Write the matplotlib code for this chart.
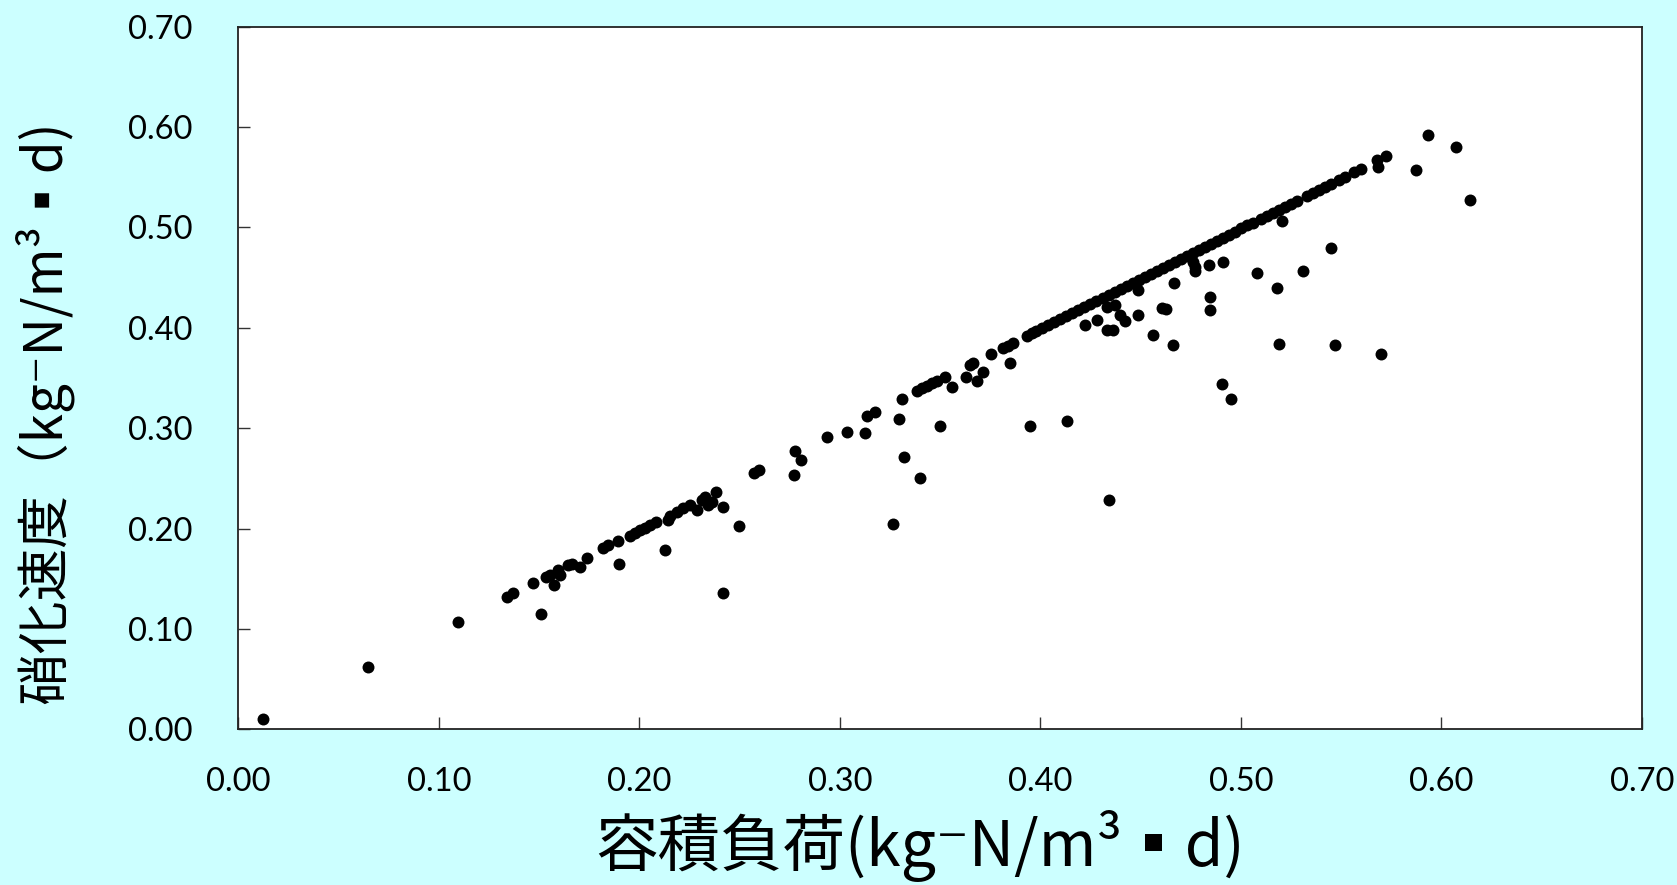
import matplotlib
matplotlib.use("Agg")
import matplotlib.pyplot as plt
from matplotlib.ticker import FormatStrFormatter

# ---- data ----
# isolated / scattered points (volumetric load, nitrification rate)
load_pts = [0.0124, 0.0645, 0.1093, 0.1341, 0.1371, 0.1471, 0.1509, 0.1532, 0.1554, 0.1575,
            0.1595, 0.1604, 0.1645, 0.1662, 0.1704, 0.1740, 0.1820, 0.1845, 0.1895, 0.1898,
            0.1953, 0.1978, 0.2003, 0.2028, 0.2053, 0.2083, 0.2128, 0.2144, 0.2153, 0.2186,
            0.2219, 0.2252, 0.2286, 0.2311, 0.2327, 0.2344, 0.2361, 0.2381, 0.2419, 0.2416,
            0.2498, 0.2572, 0.2598, 0.2773, 0.2776, 0.2806, 0.2934, 0.3037, 0.3125, 0.3134,
            0.3175, 0.3265, 0.3295, 0.3308, 0.3320, 0.3398, 0.3383, 0.3408, 0.3433, 0.3458,
            0.3483, 0.3524, 0.3499, 0.3561, 0.3629, 0.3649, 0.3666, 0.3686, 0.3716, 0.3752,
            0.3849, 0.3815, 0.3840, 0.3865, 0.3932, 0.3957, 0.3948, 0.4135, 0.4343,
            0.4223, 0.4281, 0.4334, 0.4364, 0.4331, 0.4372, 0.4397, 0.4422, 0.4489, 0.4489,
            0.4564, 0.4606, 0.4627, 0.4660, 0.4667, 0.4763, 0.4772, 0.4770, 0.4843, 0.4846,
            0.4846, 0.4913, 0.4906, 0.4951, 0.5080, 0.5180, 0.5190, 0.5204, 0.5309, 0.5449,
            0.5470, 0.5697, 0.5565, 0.5598, 0.5678, 0.5686, 0.5724, 0.5876, 0.5935, 0.6074,
            0.6143]
rate_pts = [0.0104, 0.0625, 0.1073, 0.1322, 0.1356, 0.1455, 0.1146, 0.1521, 0.1538, 0.1438,
            0.1588, 0.1538, 0.1638, 0.1648, 0.1621, 0.1704, 0.1804, 0.1837, 0.1877, 0.1648,
            0.1926, 0.1959, 0.1986, 0.2009, 0.2036, 0.2069, 0.1787, 0.2086, 0.2126, 0.2169,
            0.2202, 0.2240, 0.2186, 0.2285, 0.2318, 0.2235, 0.2268, 0.2368, 0.2218, 0.1362,
            0.2026, 0.2557, 0.2584, 0.2534, 0.2773, 0.2684, 0.2916, 0.2966, 0.2949, 0.3122,
            0.3165, 0.2043, 0.3092, 0.3291, 0.2717, 0.2507, 0.3374, 0.3398, 0.3421, 0.3448,
            0.3474, 0.3514, 0.3022, 0.3414, 0.3507, 0.3630, 0.3653, 0.3474, 0.3557, 0.3736,
            0.3653, 0.3796, 0.3819, 0.3846, 0.3919, 0.3946, 0.3025, 0.3075, 0.2290,
            0.4028, 0.4078, 0.3975, 0.3975, 0.4211, 0.4228, 0.4128, 0.4071, 0.4128, 0.4377,
            0.3929, 0.4195, 0.4185, 0.3830, 0.4450, 0.4660, 0.4610, 0.4570, 0.4626, 0.4310,
            0.4178, 0.4660, 0.3444, 0.3291, 0.4543, 0.4394, 0.3842, 0.5067, 0.4566, 0.4800,
            0.3830, 0.3743, 0.5555, 0.5580, 0.5670, 0.5605, 0.5710, 0.5575, 0.5920, 0.5800,
            0.5277]

# dense run of points lying on the diagonal
load_line = [0.398, 0.401, 0.404, 0.407, 0.410, 0.413, 0.416, 0.419, 0.422, 0.425,
             0.428, 0.431, 0.434, 0.437, 0.440, 0.443, 0.446, 0.449, 0.452, 0.455,
             0.458, 0.461, 0.464, 0.467, 0.470, 0.473, 0.476, 0.479, 0.482, 0.485,
             0.488, 0.491, 0.494, 0.497, 0.500, 0.503, 0.506, 0.510, 0.513, 0.516,
             0.519, 0.522, 0.525, 0.528, 0.533, 0.536, 0.539, 0.542, 0.545, 0.549,
             0.552]
rate_line = [0.397, 0.400, 0.403, 0.406, 0.409, 0.412, 0.415, 0.418, 0.421, 0.424,
             0.427, 0.430, 0.433, 0.436, 0.439, 0.442, 0.445, 0.448, 0.451, 0.454,
             0.457, 0.460, 0.463, 0.466, 0.469, 0.472, 0.475, 0.478, 0.481, 0.484,
             0.487, 0.490, 0.493, 0.496, 0.499, 0.502, 0.504, 0.508, 0.511, 0.514,
             0.517, 0.520, 0.523, 0.526, 0.531, 0.534, 0.537, 0.540, 0.543, 0.547,
             0.550]

ticks = [0.0, 0.1, 0.2, 0.3, 0.4, 0.5, 0.6, 0.7]
xlabel = "容積負荷(kg⁻N/m³▪d)"
ylabel = "硝化速度（kg⁻N/m³▪d)"

# ---- figure ----
bg = "#CCFFFF"
fig = plt.figure(figsize=(16.77, 8.85), dpi=100, facecolor=bg)
ax = fig.add_axes([0.1422, 0.1758, 0.9790 - 0.1422, 0.9698 - 0.1758])
ax.set_facecolor("white")

ax.scatter(load_pts, rate_pts, s=74, c="black", linewidths=0, zorder=3)
ax.scatter(load_line, rate_line, s=74, c="black", linewidths=0, zorder=3)

ax.set_xlim(0, 0.7)
ax.set_ylim(0, 0.7)
ax.set_xticks(ticks)
ax.set_yticks(ticks)
ax.xaxis.set_major_formatter(FormatStrFormatter("%.2f"))
ax.yaxis.set_major_formatter(FormatStrFormatter("%.2f"))

ax.tick_params(axis="both", direction="in", length=8.6, width=1.0, color="#333333",
               top=False, right=False)
ax.tick_params(axis="y", pad=33)
ax.tick_params(axis="x", pad=27)
for lab in ax.get_xticklabels() + ax.get_yticklabels():
    lab.set_fontfamily(["Lato", "DejaVu Sans"])
    lab.set_fontsize(23.5)
    lab.set_color("black")

for sp in ax.spines.values():
    sp.set_color("#222222")
    sp.set_linewidth(1.3)

cjk = ["Noto Sans CJK JP", "DejaVu Sans"]
ax.set_xlabel(xlabel, fontsize=45, family=cjk)
ax.xaxis.set_label_coords(0.4857, -0.166)
ax.xaxis.label.set_verticalalignment("center")
ax.set_ylabel(ylabel, fontsize=38, family=cjk)
ax.yaxis.set_label_coords(-0.139, 0.452)
ax.yaxis.label.set_verticalalignment("center")

fig.savefig("out.png", dpi=100, facecolor=bg)
